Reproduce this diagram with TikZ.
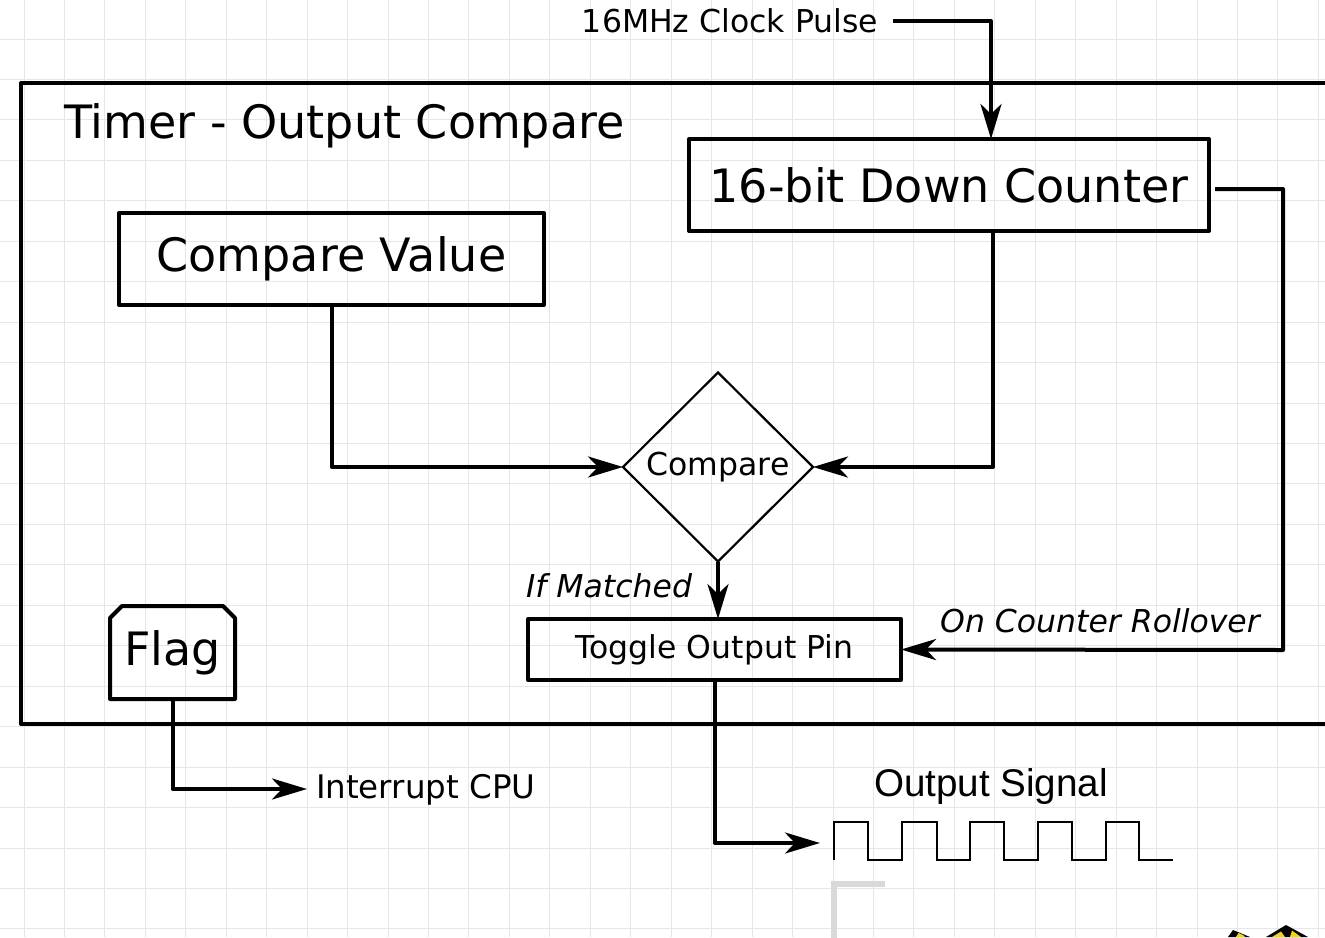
\documentclass[tikz,border=0pt]{standalone}
\usepackage{fontspec}
\setmainfont{DejaVu Sans}
\newfontfamily\arialish{Liberation Sans}
\usetikzlibrary{arrows.meta,shapes.geometric}

\definecolor{gridgray}{HTML}{E6E6E6}
\definecolor{brackgray}{HTML}{D9D9D9}
\definecolor{signyellow}{HTML}{F2D41C}

\begin{document}
\begin{tikzpicture}[x=1pt,y=-1pt,
  bigtext/.style={font=\fontsize{46}{52}\selectfont},
  smalltext/.style={font=\fontsize{31.5}{36}\selectfont},
  box/.style={draw, rectangle, line width=4pt, line join=round,
              inner sep=0pt, outer sep=0pt},
  lbl/.style={inner sep=0pt, outer sep=0pt, smalltext},
  wire/.style={line width=4pt, line join=round},
  conn/.style={wire, -{Stealth[length=35pt,width=21pt,inset=10pt]}},
]
\useasboundingbox (0,0) rectangle (1325,937);
\clip (0,0) rectangle (1325,937);

% background grid
\foreach \i in {0,...,32}
  \draw[gridgray, line width=1pt] (24+\i*40.45,0) -- (24+\i*40.45,937);
\foreach \j in {0,...,22}
  \draw[gridgray, line width=1pt] (0,39+\j*40.45) -- (1325,39+\j*40.45);

% timer block outline
\draw[line width=4pt, line join=round] (21,83) rectangle (1345,724);
\node[inner sep=0pt, bigtext, anchor=base west] (title) at (64,138) {Timer - Output Compare};

% blocks
\node[box, bigtext, minimum width=520pt, minimum height=92pt] (counter) at (949,185) {16-bit Down Counter};
\node[box, bigtext, minimum width=425pt, minimum height=92pt] (cv) at (331.5,259) {Compare Value};
\node[diamond, draw, aspect=1, line width=2.2pt, inner sep=0pt, outer sep=0pt,
      minimum width=190pt, minimum height=189pt, smalltext] (cmp) at (718,467) {\raisebox{-2pt}{Compare}};
\node[box, smalltext, minimum width=373pt, minimum height=61pt] (toggle) at (714.5,649.5) {Toggle Output Pin};
\node[inner sep=0pt, outer sep=0pt, bigtext, minimum width=125pt, minimum height=93pt] (flag) at (172.5,652.5) {Flag};
\draw[line width=4pt, line join=round]
  (flag.south west) -- ([yshift=-12pt]flag.north west) -- ([xshift=12pt]flag.north west)
  -- ([xshift=-12pt]flag.north east) -- ([yshift=-12pt]flag.north east)
  -- (flag.south east) -- cycle;

% outside labels
\node[lbl, inner xsep=15pt] (clk) at (730,21) {16MHz Clock Pulse};
\node[lbl, font=\fontsize{32.5}{36}\selectfont, inner xsep=9pt, anchor=west] (irq) at (307,790) {Interrupt CPU};
\node[lbl, font=\itshape\fontsize{31.5}{36}\selectfont, anchor=east] (matched) at (692,586) {If Matched};
\node[lbl, font=\itshape\fontsize{31.5}{36}\selectfont] (rollover) at (1100,621) {On Counter Rollover};
\node[inner sep=0pt, font=\arialish\fontsize{38.6}{44}\selectfont] (sig) at (991,787) {Output Signal};

\coordinate (roll) at (1283,650);
\coordinate (wavein) at (820,843);

% connectors
\draw[conn] (clk.east) -| ([xshift=42pt]counter.north);
\draw[conn] ([xshift=44pt]counter.south) |- (cmp.east);
\draw[conn] (cv.south) |- (cmp.west);
\draw[conn] (cmp.south) -- (cmp.south |- toggle.north);
\draw[conn] ([xshift=6pt,yshift=-4pt]counter.east) -| (roll) -- (toggle.east);
\draw[conn] (toggle.south) |- (wavein);
\draw[conn] (flag.south) |- ([yshift=1pt]irq.west);

% output waveform
\draw[line width=2pt, line join=miter]
  (834,860) -- (834,822) -- (868,822) -- (868,860) -- (902,860) -- (902,822)
  -- (937,822) -- (937,860) -- (970,860) -- (970,822) -- (1004,822) -- (1004,860)
  -- (1038,860) -- (1038,822) -- (1072,822) -- (1072,860) -- (1106,860) -- (1106,822)
  -- (1139,822) -- (1139,860) -- (1173,860);

% grey corner mark below the waveform
\draw[brackgray, line width=6pt] (834,945) -- (834,884) -- (885,884);

% striped sign fragments at the lower edge
\fill[black] (1228,937) -- (1233,930) -- (1250,937) -- cycle;
\fill[signyellow] (1236,937) -- (1238.5,933) -- (1243,935) -- (1245,937) -- cycle;
\fill[black] (1266,937) -- (1286,925) -- (1308,937) -- cycle;
\fill[signyellow] (1272,937) -- (1281,931.5) -- (1285,937) -- cycle;
\fill[signyellow] (1290,937) -- (1292,930.5) -- (1301,937) -- cycle;
\end{tikzpicture}
\end{document}
